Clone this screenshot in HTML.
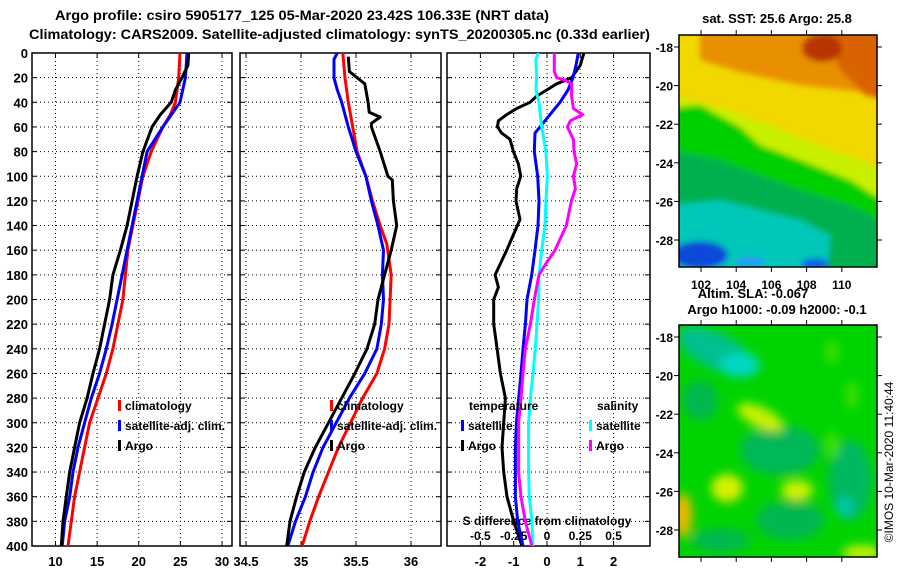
<!DOCTYPE html>
<html><head><meta charset="utf-8"><style>
html,body{margin:0;padding:0;background:#fff;}
svg{display:block;font-family:"Liberation Sans",sans-serif;font-weight:bold;}
</style></head><body>
<svg id="root" width="900" height="580" viewBox="0 0 900 580">
<defs>
<clipPath id="c1"><rect x="32" y="53" width="200" height="493"/></clipPath>
<clipPath id="c2"><rect x="240" y="53" width="201" height="493"/></clipPath>
<clipPath id="c3"><rect x="447" y="53" width="203" height="493"/></clipPath>
<clipPath id="m1"><rect x="679" y="35" width="198" height="232"/></clipPath>
<clipPath id="m2"><rect x="679" y="325" width="198" height="232"/></clipPath>
<filter id="bl" x="-20%" y="-20%" width="140%" height="140%"><feGaussianBlur stdDeviation="3"/></filter>
<filter id="bl2" x="-50%" y="-50%" width="200%" height="200%"><feGaussianBlur stdDeviation="5"/></filter>
</defs>
<text x="55" y="20" font-size="14" textLength="494" lengthAdjust="spacingAndGlyphs">Argo profile: csiro 5905177_125 05-Mar-2020 23.42S 106.33E (NRT data)</text>
<text x="29" y="39" font-size="14" textLength="621" lengthAdjust="spacingAndGlyphs">Climatology: CARS2009. Satellite-adjusted climatology: synTS_20200305.nc (0.33d earlier)</text>

<!-- SST map -->
<g clip-path="url(#m1)">
<rect x="679" y="35" width="198" height="232" fill="#f0d800"/>
<g filter="url(#bl)">
<polygon points="700,25 890,25 890,95 800,85 740,72 700,60" fill="#e89000"/>
<polygon points="820,25 890,25 890,100 865,95 840,70" fill="#d86400"/>
<ellipse cx="822" cy="48" rx="20" ry="14" fill="#b83400"/>
<polygon points="670,95 720,108 770,125 830,150 890,170 890,220 670,220" fill="#c8f000"/>
<polygon points="670,108 700,105 740,127 760,145 800,160 850,180 890,205 890,300 670,300" fill="#00d000"/>
<polygon points="670,150 720,160 760,175 800,190 850,205 890,225 890,300 670,300" fill="#00b050"/>
<polygon points="670,205 720,200 760,210 800,220 830,235 825,300 670,300" fill="#00c8b8"/>
<rect x="835" y="228" width="60" height="45" fill="#00b050"/>
<ellipse cx="700" cy="255" rx="28" ry="14" fill="#1048d8"/>
<ellipse cx="750" cy="262" rx="15" ry="6" fill="#20a0f0"/>
<ellipse cx="815" cy="264" rx="14" ry="6" fill="#1060e8"/>
</g>
</g>
<rect x="679" y="35" width="198" height="232" fill="none" stroke="#000" stroke-width="1.5"/>

<!-- SLA map -->
<g clip-path="url(#m2)">
<rect x="679" y="325" width="198" height="232" fill="#00d400"/>
<g filter="url(#bl2)">
<ellipse cx="715" cy="350" rx="40" ry="18" transform="rotate(25 715 350)" fill="#00c090"/>
<ellipse cx="740" cy="365" rx="20" ry="12" fill="#00d8c8"/>
<ellipse cx="700" cy="400" rx="18" ry="20" fill="#00b850"/>
<ellipse cx="780" cy="450" rx="40" ry="25" fill="#00b858"/>
<ellipse cx="850" cy="480" rx="22" ry="40" fill="#00b860"/>
<ellipse cx="845" cy="507" rx="8" ry="10" fill="#00c8b0"/>
<ellipse cx="790" cy="520" rx="35" ry="20" fill="#00b850"/>
<ellipse cx="720" cy="540" rx="30" ry="12" fill="#00b850"/>
<ellipse cx="760" cy="417" rx="25" ry="10" transform="rotate(25 760 417)" fill="#c8f000"/>
<ellipse cx="727" cy="488" rx="16" ry="14" fill="#d8f000"/>
<ellipse cx="797" cy="490" rx="16" ry="10" fill="#d0f000"/>
<ellipse cx="683" cy="515" rx="9" ry="22" fill="#f0b800"/>
<ellipse cx="862" cy="553" rx="20" ry="8" fill="#c8f000"/>
<ellipse cx="832" cy="352" rx="6" ry="12" fill="#40e000"/>
<ellipse cx="852" cy="395" rx="6" ry="14" fill="#40e000"/>
<ellipse cx="832" cy="445" rx="7" ry="14" fill="#40e000"/>
</g>
</g>
<rect x="679" y="325" width="198" height="232" fill="none" stroke="#000" stroke-width="1.5"/>

<text x="777" y="23" font-size="13" text-anchor="middle">sat. SST: 25.6 Argo: 25.8</text>
<text x="753" y="298" font-size="13" text-anchor="middle">Altim. SLA: -0.067</text>
<text x="777" y="314" font-size="13" text-anchor="middle">Argo h1000: -0.09 h2000: -0.1</text>
<text transform="translate(893,462) rotate(-90)" font-size="12" font-weight="normal" text-anchor="middle">©IMOS 10-Mar-2020 11:40:44</text>
<g id="axes"></g>
</svg>
<script>
// ---- data ----
const depthTicks = [0,20,40,60,80,100,120,140,160,180,200,220,240,260,280,300,320,340,360,380,400];
const tempTicks = [10,15,20,25,30];
const salTicks = [34.5,35,35.5,36];
const diffTicks = [-2,-1,0,1,2];
const sdiffTicks = [-0.5,-0.25,0,0.25,0.5];
const sdiffLabels = ["-0.5","-0.25","0","0.25","0.5"];

const tClimDepth = [0,20,40,50,60,80,100,120,140,160,180,200,220,240,260,280,300,320,340,360,380,400];
const tClim = [24.95,24.8,24.4,23.8,22.9,21.5,20.5,19.9,19.3,18.7,18.4,18.1,17.5,16.9,16.1,15.1,14.1,13.5,12.9,12.3,11.9,11.5];
const tSatDepth = [0,20,40,60,80,100,140,180,200,220,240,260,280,300,320,340,360,380,400];
const tSat = [25.8,25.6,24.95,22.9,21.0,20.4,19.2,18.0,17.4,16.8,16.1,15.3,14.3,13.5,12.7,12.1,11.7,11.1,10.8];
const tArgoDepth = [0,10,20,30,40,50,60,80,100,120,140,160,180,200,220,240,260,280,300,320,340,360,380,400];
const tArgo = [26.0,25.9,25.2,24.4,23.9,22.6,21.6,20.5,19.8,19.2,18.6,17.8,16.9,16.5,15.9,15.3,14.5,13.8,12.9,12.3,11.7,11.3,10.9,10.7];

const sClimDepth = [0,20,40,60,80,100,120,140,155,180,200,220,240,260,280,300,320,340,360,380,400];
const sClim = [35.38,35.40,35.43,35.47,35.51,35.59,35.65,35.72,35.78,35.82,35.81,35.80,35.76,35.69,35.56,35.45,35.34,35.25,35.16,35.08,35.01];
const sSatDepth = [0,5,20,30,40,60,80,100,120,140,160,180,200,220,240,260,280,300,320,340,360,380,400];
const sSat = [35.33,35.30,35.30,35.33,35.37,35.43,35.50,35.59,35.64,35.70,35.75,35.74,35.75,35.73,35.69,35.58,35.44,35.32,35.20,35.11,35.04,34.95,34.88];
const sArgoDepth = [3,15,20,25,40,48,52,57,60,80,100,103,120,140,160,180,200,220,240,260,280,300,320,340,360,380,400];
const sArgo = [35.43,35.44,35.51,35.58,35.61,35.62,35.72,35.64,35.64,35.72,35.79,35.83,35.84,35.87,35.82,35.76,35.70,35.67,35.60,35.49,35.37,35.25,35.13,35.03,34.96,34.90,34.87];

const dTSatDepth = [0,10,20,30,40,50,60,65,80,100,120,140,160,180,200,220,240,260,280,300,320,340,360,380,400];
const dTSat = [0.94,0.87,0.78,0.63,0.39,0.09,-0.21,-0.36,-0.38,-0.28,-0.24,-0.27,-0.36,-0.46,-0.6,-0.65,-0.72,-0.78,-0.85,-0.92,-0.95,-0.95,-0.95,-0.88,-0.72];
const dTArgoDepth = [0,5,10,20,25,30,35,40,45,50,55,60,65,70,80,90,100,110,120,135,140,160,180,190,200,220,240,260,280,300,320,340,360,380,400];
const dTArgo = [1.11,1.05,1.0,0.74,0.29,-0.01,-0.31,-0.51,-0.91,-1.21,-1.46,-1.49,-1.36,-1.11,-1.01,-0.86,-0.79,-0.91,-0.93,-0.81,-0.89,-1.21,-1.56,-1.46,-1.6,-1.6,-1.5,-1.4,-1.25,-1.3,-1.35,-1.3,-1.2,-1.0,-0.75];
const dSSatDepth = [0,5,20,30,40,60,80,100,120,140,160,180,200,220,240,260,280,300,320,340,360,380,400];
const dSSat = [-0.065,-0.083,-0.078,-0.083,-0.06,-0.04,-0.008,0.003,-0.008,-0.015,-0.04,-0.06,-0.063,-0.075,-0.088,-0.105,-0.125,-0.138,-0.138,-0.138,-0.133,-0.113,-0.105];
const dSArgoDepth = [0,15,20,22,25,35,45,50,55,60,70,80,90,100,110,120,140,160,170,180,200,220,240,260,280,300,320,340,360,380,400];
const dSArgo = [0.055,0.055,0.073,0.135,0.185,0.185,0.198,0.268,0.175,0.153,0.198,0.203,0.223,0.198,0.213,0.183,0.145,0.06,-0.003,-0.06,-0.095,-0.125,-0.163,-0.18,-0.195,-0.213,-0.213,-0.213,-0.195,-0.163,-0.113];

const latTicks = [-18,-20,-22,-24,-26,-28];
const lonTicks = [102,104,106,108,110];

// ---- scales ----
const NS = "http://www.w3.org/2000/svg";
const yD = d => 53 + d * 1.2325;
const x1 = t => 55.5 + (t - 10) * 8.325;
const x2 = s => 301 + (s - 35) * 110;
const x3 = v => 547 + v * 33.3;
const xs3 = s => x3(s * 4);
const yLat1 = l => 47 + (-18 - l) * 19.3;
const yLat2 = l => 337 + (-18 - l) * 19.3;
const xLon = l => 701 + (l - 102) * 17.6;

const root = document.getElementById('axes');
function mk(tag, attrs, parent) {
  const e = document.createElementNS(NS, tag);
  for (const k in attrs) e.setAttribute(k, attrs[k]);
  (parent || root).appendChild(e);
  return e;
}
function txt(x, y, s, anchor, size, name) {
  const t = mk('text', {x: x, y: y, 'font-size': size || 12, 'text-anchor': anchor || 'middle'});
  t.textContent = s;
  
  
  return t;
}

const panels = [
  {L: 32, R: 232, xs: x1, ticks: tempTicks, name: 'temperature-panel', clip: 'c1'},
  {L: 240, R: 441, xs: x2, ticks: salTicks, name: 'salinity-panel', clip: 'c2'},
  {L: 447, R: 650, xs: x3, ticks: diffTicks, name: 'difference-panel', clip: 'c3'}
];
panels.forEach(p => {
  const g = mk('g', {});
  
  
  depthTicks.forEach(d => {
    if (d > 0 && d < 400) {
      const gl = mk('line', {x1: p.L, x2: p.R, y1: yD(d), y2: yD(d), stroke: '#000', 'stroke-width': 1, 'stroke-dasharray': '1,3'}, g);
      
      
    }
    mk('line', {x1: p.L, x2: p.L + 5, y1: yD(d), y2: yD(d), stroke: '#000'}, g);
    mk('line', {x1: p.R - 5, x2: p.R, y1: yD(d), y2: yD(d), stroke: '#000'}, g);
  });
  p.ticks.forEach(t => {
    const x = p.xs(t);
    if (x > p.L + 2 && x < p.R - 2) {
      const gl = mk('line', {x1: x, x2: x, y1: 53, y2: 546, stroke: '#000', 'stroke-width': 1, 'stroke-dasharray': '1,3'}, g);
      
      
    }
    mk('line', {x1: x, x2: x, y1: 53, y2: 58, stroke: '#000'}, g);
    mk('line', {x1: x, x2: x, y1: 541, y2: 546, stroke: '#000'}, g);
    txt(x, 566, String(t), 'middle', 13, 'x-tick-label');
  });
  const f = mk('rect', {x: p.L, y: 53, width: p.R - p.L, height: 493, fill: 'none', stroke: '#000', 'stroke-width': 1.5}, g);
  
  
});
depthTicks.forEach(d => txt(28, yD(d) + 5, String(d), 'end', 13, 'depth-tick-label'));
sdiffTicks.forEach((s, i) => txt(xs3(s), 540, sdiffLabels[i], 'middle', 12, 's-diff-tick-label'));
txt(547, 525, 'S difference from climatology', 'middle', 12, 's-diff-axis-title');

function series(depths, vals, xs, color, clip, name) {
  const pts = depths.map((d, i) => xs(vals[i]).toFixed(1) + ',' + yD(d).toFixed(1)).join(' ');
  const l = mk('polyline', {points: pts, fill: 'none', stroke: color, 'stroke-width': 3, 'stroke-linejoin': 'round', 'clip-path': 'url(#' + clip + ')'});
  
  
}
series(tClimDepth, tClim, x1, '#ff0000', 'c1', 'temp-climatology-line');
series(tSatDepth, tSat, x1, '#0000ff', 'c1', 'temp-satellite-line');
series(tArgoDepth, tArgo, x1, '#000000', 'c1', 'temp-argo-line');
series(sClimDepth, sClim, x2, '#ff0000', 'c2', 'sal-climatology-line');
series(sSatDepth, sSat, x2, '#0000ff', 'c2', 'sal-satellite-line');
series(sArgoDepth, sArgo, x2, '#000000', 'c2', 'sal-argo-line');
series(dTArgoDepth, dTArgo, x3, '#000000', 'c3', 'temp-diff-argo-line');
series(dTSatDepth, dTSat, x3, '#0000ff', 'c3', 'temp-diff-satellite-line');
series(dSSatDepth, dSSat, xs3, '#00ffff', 'c3', 'sal-diff-satellite-line');
series(dSArgoDepth, dSArgo, xs3, '#ff00ff', 'c3', 'sal-diff-argo-line');

function legend(x, y, color, label) {
  const b = mk('rect', {x: x, y: y - 10, width: 3, height: 11, fill: color});
  
  
  txt(x + 7, y, label, 'start', 12, 'legend-entry');
}
[[118, '#ff0000', 'climatology'], [118, '#0000ff', 'satellite-adj. clim.'], [118, '#000', 'Argo']].forEach((e, i) => legend(e[0], 410 + i * 20, e[1], e[2]));
[[330, '#ff0000', 'climatology'], [330, '#0000ff', 'satellite-adj. clim.'], [330, '#000', 'Argo']].forEach((e, i) => legend(e[0], 410 + i * 20, e[1], e[2]));
txt(469, 410, 'temperature', 'start', 12, 'legend-temperature-heading');
txt(597, 410, 'salinity', 'start', 12, 'legend-salinity-heading');
legend(461, 430, '#0000ff', 'satellite');
legend(461, 450, '#000', 'Argo');
legend(589, 430, '#00ffff', 'satellite');
legend(589, 450, '#ff00ff', 'Argo');

// map ticks
latTicks.forEach(l => {
  [yLat1(l), yLat2(l)].forEach(y => {
    mk('line', {x1: 674, x2: 679, y1: y, y2: y, stroke: '#000'});
    mk('line', {x1: 877, x2: 882, y1: y, y2: y, stroke: '#000'});
    txt(673, y + 5, String(l), 'end', 12, 'lat-tick-label');
  });
});
lonTicks.forEach(l => {
  const x = xLon(l);
  [[30, 35], [267, 272], [320, 325], [557, 562]].forEach(s => mk('line', {x1: x, x2: x, y1: s[0], y2: s[1], stroke: '#000'}));
  txt(x, 289, String(l), 'middle', 12, 'lon-tick-label');
});
</script>
</body></html>
